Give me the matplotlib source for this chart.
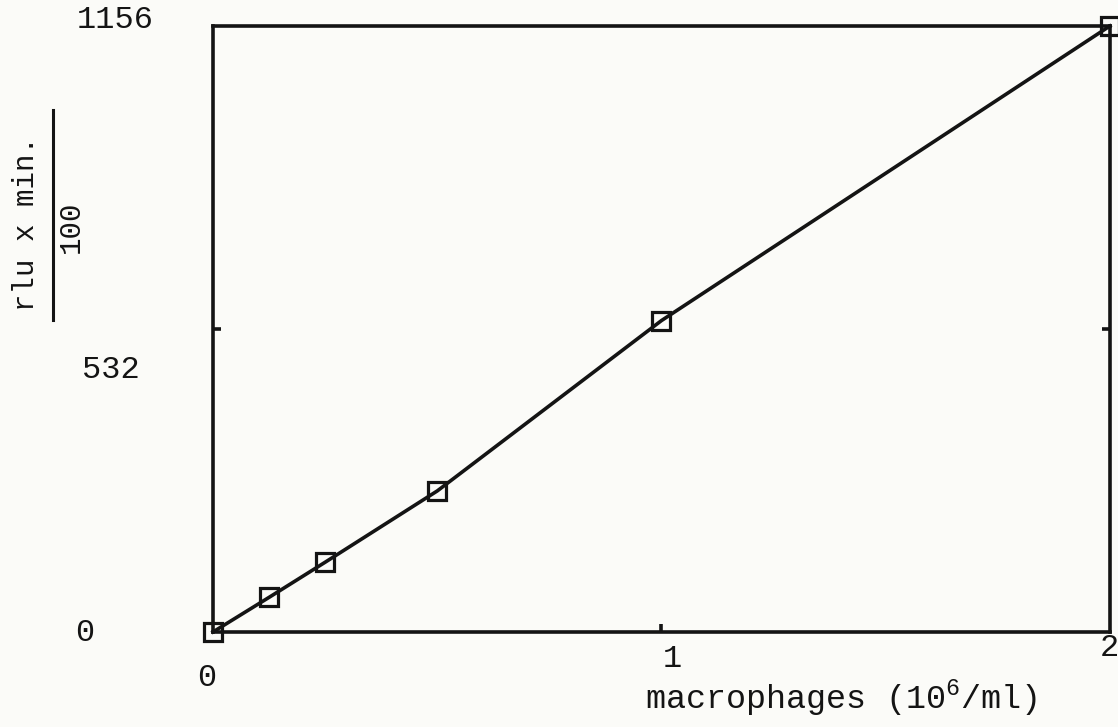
import matplotlib
matplotlib.use('Agg')
import matplotlib.pyplot as plt
from matplotlib.lines import Line2D

plt.rcParams['font.family'] = ['Liberation Mono', 'DejaVu Sans Mono']
plt.rcParams['mathtext.fontset'] = 'custom'
plt.rcParams['mathtext.rm'] = 'Liberation Mono'

# data
macrophages = [0, 0.125, 0.25, 0.5, 1.0, 2.0]
rlu_min = [0, 66, 133, 269, 594, 1156]

y_max = 1156
y_mid_tick = 578
x_tick = 1

INK = '#141414'
PAPER = '#fbfbf8'

fig = plt.figure(figsize=(11.18, 7.27), dpi=100, facecolor=PAPER)
ax = fig.add_axes([0.1905, 0.1307, 0.8023, 0.8336])
ax.set_facecolor(PAPER)

ax.plot(macrophages, rlu_min, color=INK, lw=2.6, marker='s', ms=13,
        mfc='none', mec=INK, mew=2.3, clip_on=False, zorder=3)

ax.set_xlim(0, 2)
ax.set_ylim(0, y_max)

for s in ax.spines.values():
    s.set_linewidth(2.6)
    s.set_color(INK)

ax.set_xticks([x_tick])
ax.set_yticks([y_mid_tick])
ax.tick_params(axis='both', direction='in', length=6, width=2.6, color=INK,
               labelbottom=False, labelleft=False)
ax.tick_params(axis='y', right=True)

# typed tick labels, placed where the typist put them
fs = 23
fig.text(0.103, 0.9725, '1156', fontsize=fs, color=INK, ha='center', va='center')
fig.text(0.099, 0.491, '532', fontsize=fs, color=INK, ha='center', va='center')
fig.text(0.076, 0.1293, '0', fontsize=fs, color=INK, ha='center', va='center')
fig.text(0.185, 0.0674, '0', fontsize=fs, color=INK, ha='center', va='center')
fig.text(0.601, 0.094, '1', fontsize=fs, color=INK, ha='center', va='center')
fig.text(0.992, 0.109, '2', fontsize=fs, color=INK, ha='center', va='center')

# axis titles
fig.text(0.752, 0.040, 'macrophages (10$^{6}$/ml)', fontsize=24, color=INK,
         ha='center', va='center')
fig.text(0.023, 0.692, 'rlu x min.', fontsize=21, color=INK, rotation=90,
         ha='center', va='center')
fig.add_artist(Line2D([0.0474, 0.0474], [1 - 110 / 727, 1 - 320 / 727],
                      transform=fig.transFigure, color=INK, lw=2.2))
fig.text(0.0635, 0.688, '100', fontsize=21, color=INK, rotation=90,
         ha='center', va='center')

fig.savefig('out.png', dpi=100, facecolor=PAPER)
